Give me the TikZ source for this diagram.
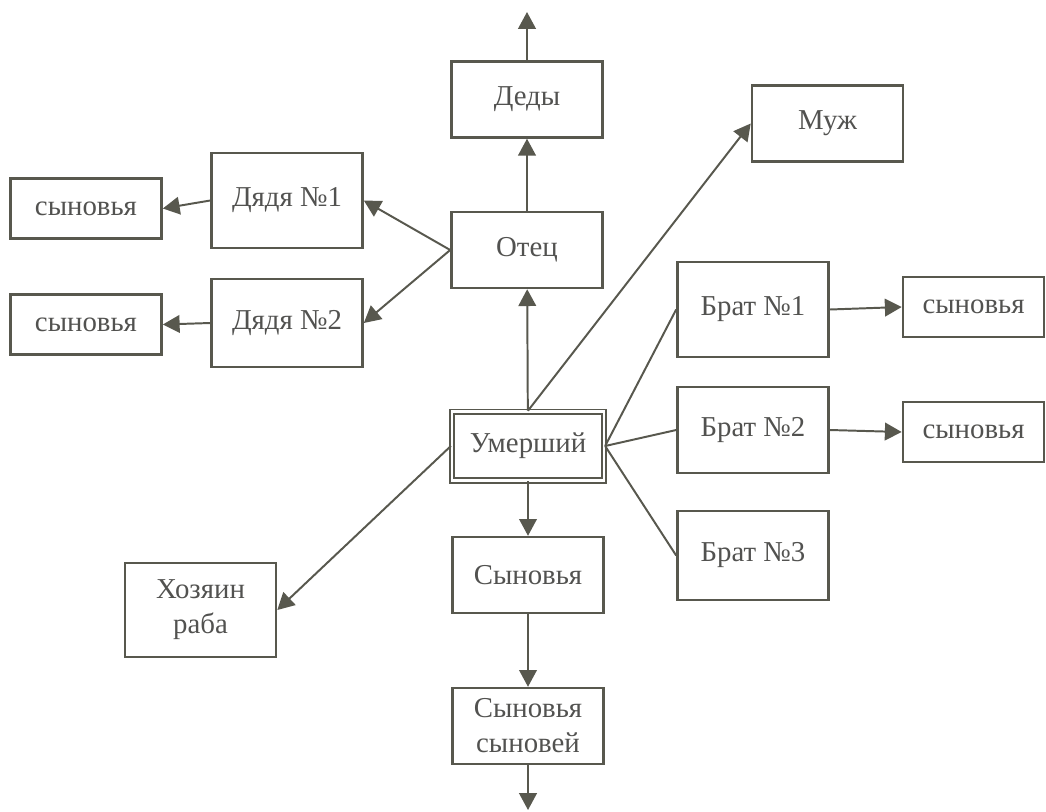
\documentclass[tikz,border=0pt]{standalone}
\usepackage{fontspec}
\setmainfont{Liberation Serif}
\usetikzlibrary{arrows.meta}
\definecolor{ink}{RGB}{88,88,78}
\definecolor{txt}{RGB}{82,82,80}

\begin{document}
\begin{tikzpicture}[x=0.025cm,y=-0.025cm,
    box/.style={draw=ink,line width=1.7pt,text=txt,minimum width=3.78cm,minimum height=1.9cm,
      inner sep=2pt,align=center,font=\fontsize{20.5}{25}\selectfont},
    tall/.style={box,minimum height=2.36cm},
    low/.style={box,minimum height=1.5cm},
    arr/.style={draw=ink,line width=1.4pt,-{Triangle[length=0.42cm,width=0.44cm]}},
    lnk/.style={draw=ink,line width=1.4pt}]
    \useasboundingbox (0,0) rectangle (1046,811);
    \node[box] (dedy) at (527,99.5) {Деды};
    \node[box] (muzh) at (827.5,123.5) {Муж};
    \node[box] (otec) at (527,250) {Отец};
    \node[tall] (dyadya1) at (287,200.5) {Дядя №1};
    \node[box,minimum height=2.2cm] (dyadya2) at (287,323) {Дядя №2};
    \node[low] (synovya1) at (86,208.5) {сыновья};
    \node[low] (synovya2) at (86,324.5) {сыновья};
    \node[tall] (brat1) at (753,309.5) {Брат №1};
    \node[box,minimum height=2.15cm] (brat2) at (753,430) {Брат №2};
    \node[box,minimum height=2.22cm] (brat3) at (753,555.5) {Брат №3};
    \node[low,minimum width=3.53cm] (synovya3) at (973.5,307) {сыновья};
    \node[low,minimum width=3.53cm] (synovya4) at (973.5,432) {сыновья};
    \node[box,minimum width=3.81cm,minimum height=1.72cm,line width=1.3pt,
      double,double distance=1.8pt] (umershiy) at (528,446) {Умерший};
    \node[box] (synovya) at (528,575) {Сыновья};
    \node[tall] (hozyain) at (200.5,610) {Хозяин\\раба};
    \node[box] (synsyn) at (528,726) {Сыновья\\сыновей};
    \coordinate (verh) at (527,12);
    \coordinate (niz) at (528,810);
    \draw[arr] (dedy) -- (verh);
    \draw[arr] (otec) -- (dedy);
    \draw[arr] (umershiy) -- (otec);
    \draw[arr] (umershiy.north) -- (muzh.west);
    \draw[arr] (otec.west) -- (dyadya1.east);
    \draw[arr] (otec.west) -- (dyadya2.east);
    \draw[arr] (dyadya1.west) -- (synovya1.east);
    \draw[arr] (dyadya2.west) -- (synovya2.east);
    \draw[lnk] (umershiy.east) -- (brat1.west);
    \draw[lnk] (umershiy.east) -- (brat2.west);
    \draw[lnk] (umershiy.east) -- (brat3.west);
    \draw[arr] (brat1.east) -- (synovya3.west);
    \draw[arr] (brat2.east) -- (synovya4.west);
    \draw[arr] (umershiy.west) -- (hozyain.east);
    \draw[arr] (umershiy) -- (synovya);
    \draw[arr] (synovya) -- (synsyn);
    \draw[arr] (synsyn) -- (niz);
\end{tikzpicture}
\end{document}
